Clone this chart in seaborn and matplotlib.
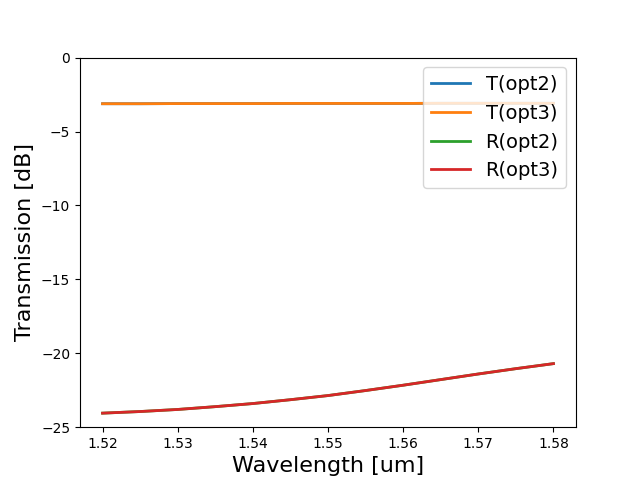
import numpy as np
import pandas as pd
import matplotlib
matplotlib.use('Agg')
import matplotlib.pyplot as plt
import seaborn as sns

wavelength = [1.520, 1.525, 1.530, 1.535, 1.540, 1.545, 1.550,
              1.555, 1.560, 1.565, 1.570, 1.575, 1.580]
T_opt2 = [-3.12, -3.12, -3.11, -3.11, -3.11, -3.10, -3.10,
          -3.10, -3.10, -3.09, -3.09, -3.09, -3.09]
T_opt3 = [-3.12, -3.12, -3.11, -3.11, -3.11, -3.10, -3.10,
          -3.10, -3.10, -3.09, -3.09, -3.09, -3.09]
R_opt2 = [-24.05, -23.94, -23.80, -23.61, -23.40, -23.14, -22.86,
          -22.52, -22.16, -21.78, -21.40, -21.04, -20.70]
R_opt3 = [-24.05, -23.94, -23.80, -23.61, -23.40, -23.14, -22.86,
          -22.52, -22.16, -21.78, -21.40, -21.04, -20.70]

series = {'T(opt2)': T_opt2, 'T(opt3)': T_opt3,
          'R(opt2)': R_opt2, 'R(opt3)': R_opt3}
colors = sns.color_palette('tab10', 4)

fig, ax = plt.subplots(figsize=(6.4, 4.8), dpi=100)
for (name, vals), c in zip(series.items(), colors):
    sns.lineplot(x=wavelength, y=vals, label=name, color=c, linewidth=2, ax=ax)

ax.set_ylim(-25, 0)
ax.set_xlabel('Wavelength [um]', fontsize=16)
ax.set_ylabel('Transmission [dB]', fontsize=16)
ax.legend(fontsize=14, loc='upper right')
plt.savefig('out.png', dpi=100)
